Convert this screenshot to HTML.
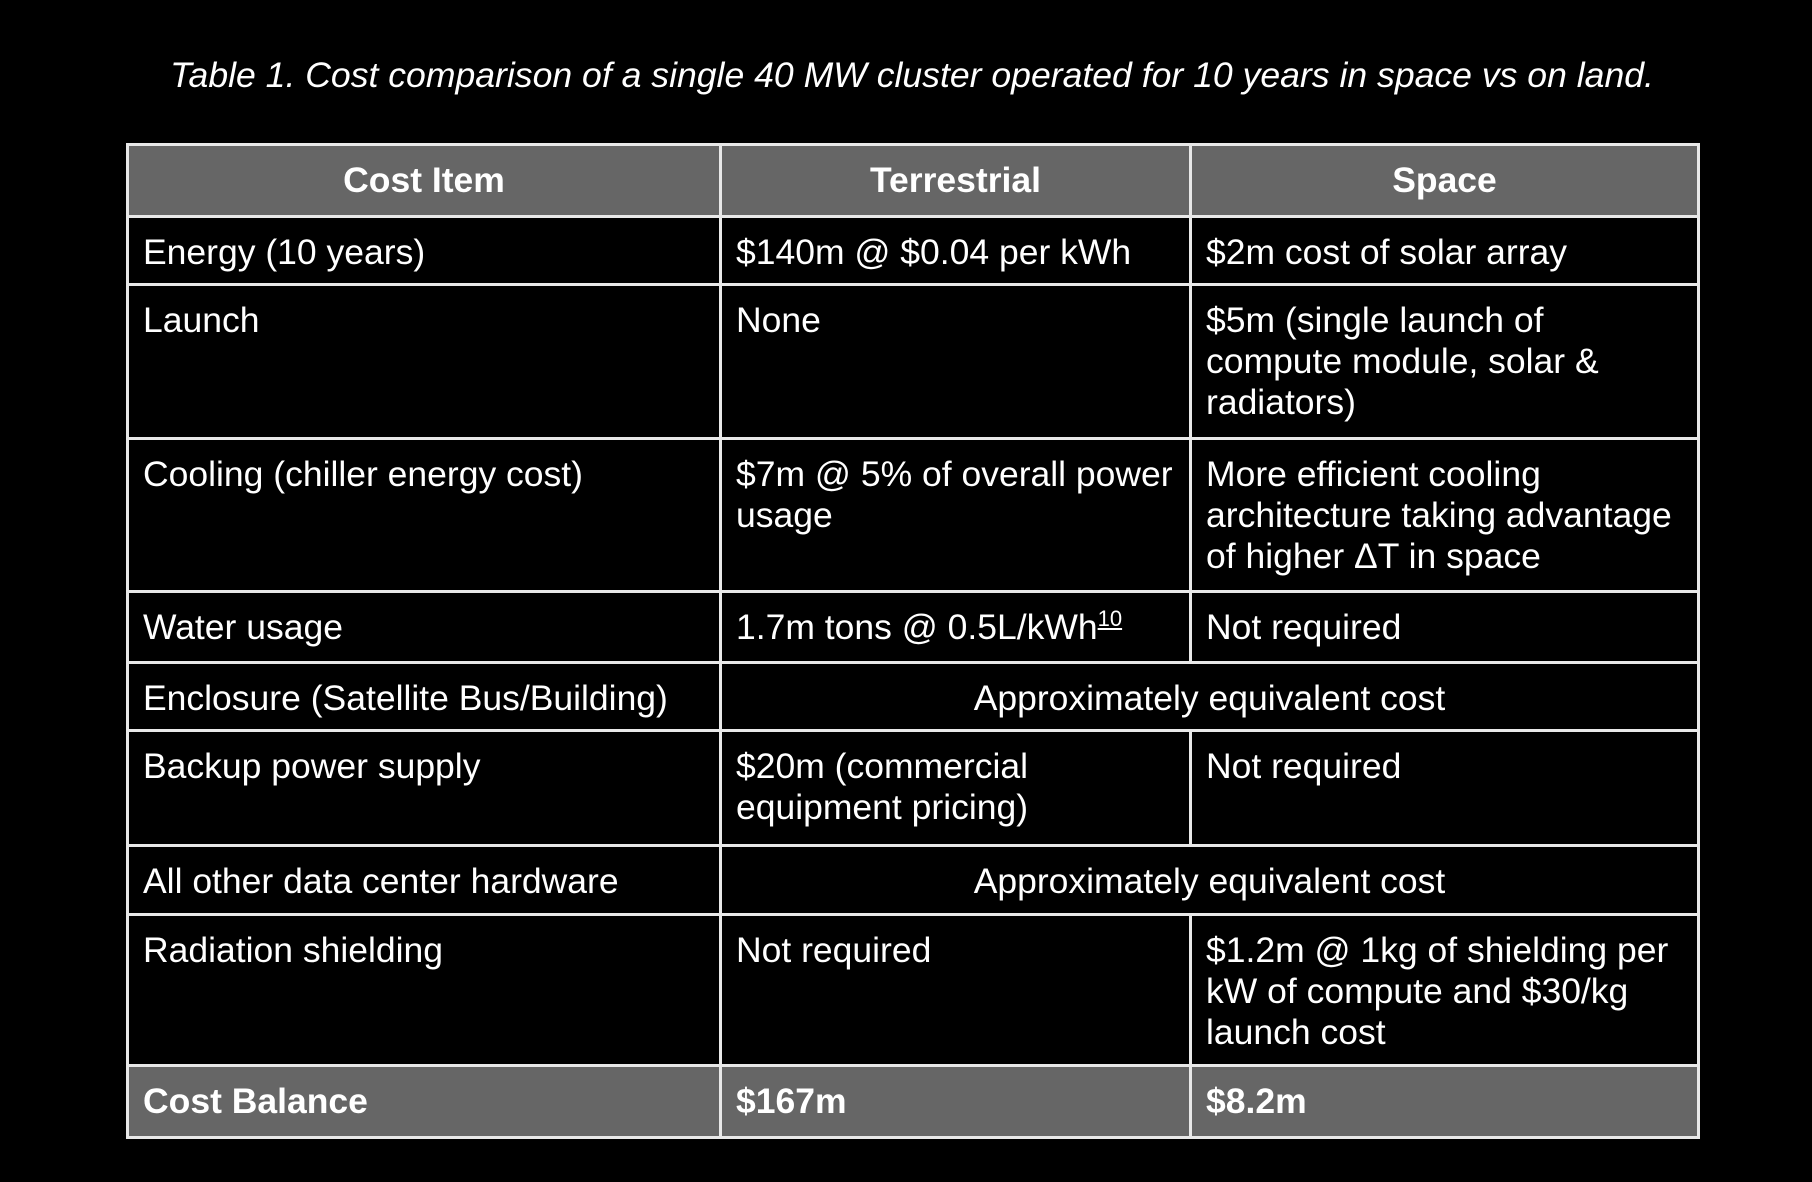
<!DOCTYPE html>
<html><head><meta charset="utf-8"><style>
html,body{margin:0;padding:0;background:#000;width:1812px;height:1182px;overflow:hidden}
body{font-family:"Liberation Sans",Arial,sans-serif;color:#fff;position:relative}
.title{position:absolute;top:55px;left:6px;width:1812px;text-align:center;font-style:italic;font-size:35.6px}
table{position:absolute;left:126px;top:143px;border-collapse:collapse;table-layout:fixed}
td,th{border:3px solid #e8e8e8;font-size:35.5px;line-height:41px;vertical-align:top;padding:14px 14px 0 14px;text-align:left;font-weight:normal;box-sizing:border-box}
th{background:#666;font-weight:bold;text-align:center;vertical-align:middle;padding:0}
.c{text-align:center}
tr.last td{background:#666;font-weight:bold}
sup{font-size:22px;line-height:0;text-decoration:underline;vertical-align:13px}
</style></head><body>
<div class="title">Table 1. Cost comparison of a single 40 MW cluster operated for 10 years in space vs on land.</div>
<table>
<colgroup><col style="width:593px"><col style="width:470px"><col style="width:508px"></colgroup>
<tr style="height:72px"><th>Cost Item</th><th>Terrestrial</th><th>Space</th></tr>
<tr style="height:68px"><td>Energy (10 years)</td><td>$140m @ $0.04 per kWh</td><td>$2m cost of solar array</td></tr>
<tr style="height:154px"><td>Launch</td><td>None</td><td>$5m (single launch of compute module, solar &amp; radiators)</td></tr>
<tr style="height:153px"><td>Cooling (chiller energy cost)</td><td>$7m @ 5% of overall power usage</td><td>More efficient cooling architecture taking advantage of higher ΔT in space</td></tr>
<tr style="height:71px"><td>Water usage</td><td>1.7m tons @ 0.5L/kWh<sup>10</sup></td><td>Not required</td></tr>
<tr style="height:68px"><td>Enclosure (Satellite Bus/Building)</td><td colspan="2" class="c">Approximately equivalent cost</td></tr>
<tr style="height:115px"><td>Backup power supply</td><td>$20m (commercial equipment pricing)</td><td>Not required</td></tr>
<tr style="height:69px"><td>All other data center hardware</td><td colspan="2" class="c">Approximately equivalent cost</td></tr>
<tr style="height:151px"><td>Radiation shielding</td><td>Not required</td><td>$1.2m @ 1kg of shielding per kW of compute and $30/kg launch cost</td></tr>
<tr class="last" style="height:72px"><td>Cost Balance</td><td>$167m</td><td>$8.2m</td></tr>
</table>
</body></html>
